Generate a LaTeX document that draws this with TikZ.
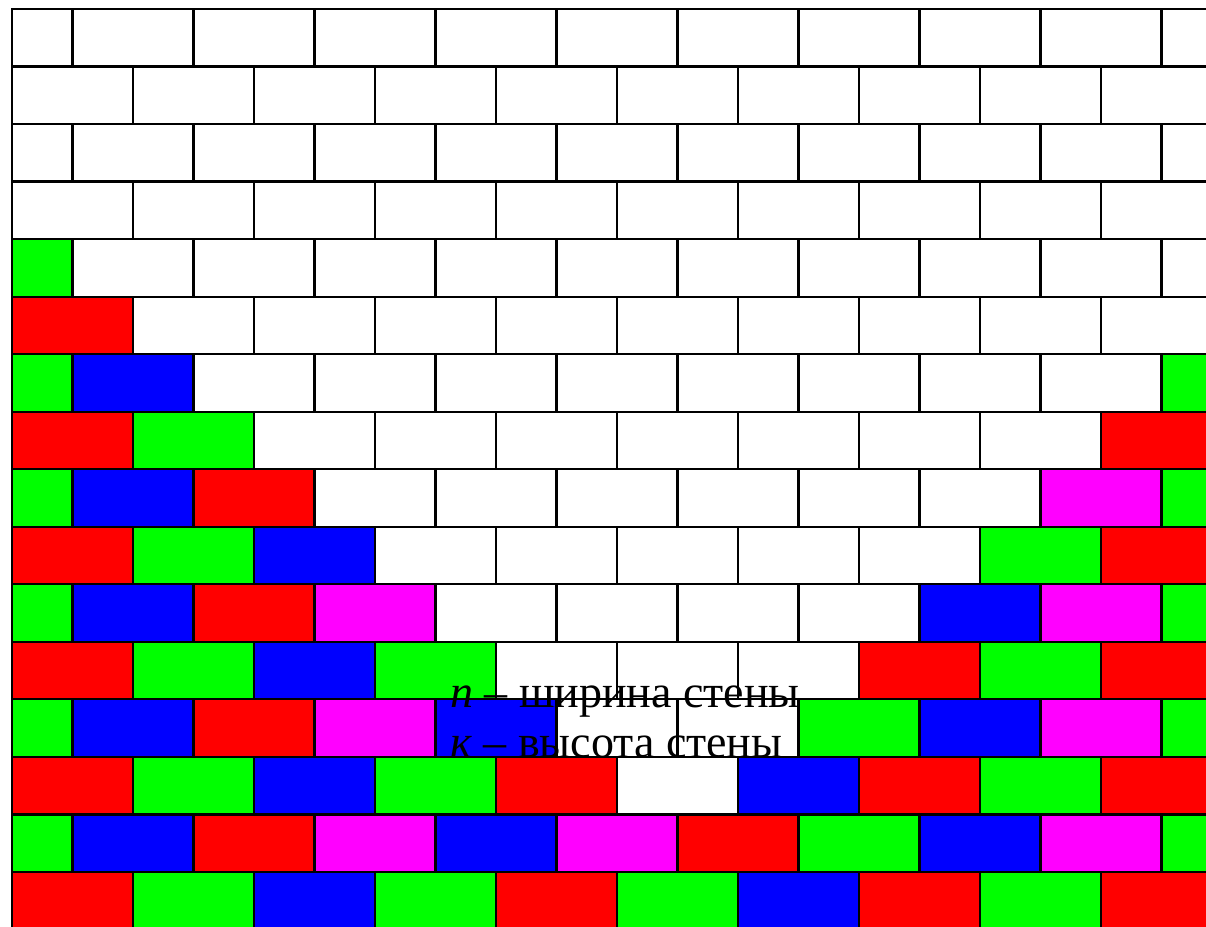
\documentclass[tikz,border=0pt]{standalone}
\usepackage{fontspec}
\setmainfont{Liberation Serif}
\definecolor{W}{RGB}{255,255,255}
\definecolor{G}{RGB}{0,255,0}
\definecolor{R}{RGB}{255,0,0}
\definecolor{B}{RGB}{0,0,255}
\definecolor{M}{RGB}{255,0,255}
\begin{document}
\begin{tikzpicture}[x=1pt,y=-1pt,
  brick/.style={draw=black, line width=2.2pt},
  lbl/.style={anchor=base west, inner sep=0pt, font=\fontsize{46}{50}\selectfont}]
\useasboundingbox (0,0) rectangle (1206,926);
\begin{scope}
\clip (0,0) rectangle (1206,926);
\foreach \r/\lst in {
 0/{W,W,W,W,W,W,W,W,W,W,W},
 1/{W,W,W,W,W,W,W,W,W,W},
 2/{W,W,W,W,W,W,W,W,W,W,W},
 3/{W,W,W,W,W,W,W,W,W,W},
 4/{G,W,W,W,W,W,W,W,W,W,W},
 5/{R,W,W,W,W,W,W,W,W,W},
 6/{G,B,W,W,W,W,W,W,W,W,G},
 7/{R,G,W,W,W,W,W,W,W,R},
 8/{G,B,R,W,W,W,W,W,W,M,G},
 9/{R,G,B,W,W,W,W,W,G,R},
 10/{G,B,R,M,W,W,W,W,B,M,G},
 11/{R,G,B,G,W,W,W,R,G,R},
 12/{G,B,R,M,B,W,W,G,B,M,G},
 13/{R,G,B,G,R,W,B,R,G,R},
 14/{G,B,R,M,B,M,R,G,B,M,G},
 15/{R,G,B,G,R,G,B,R,G,R}} {
  \foreach \c [count=\i from 0] in \lst {
    \pgfmathsetmacro{\off}{60.5*(1-mod(\r,2))}
    \pgfmathsetmacro{\xa}{max(12,12+\i*121-\off)}
    \pgfmathsetmacro{\xb}{12+(\i+1)*121-\off}
    \pgfmathsetmacro{\ya}{9+\r*57.53}
    \pgfmathsetmacro{\yb}{\ya+57.53}
    \path[brick, fill=\c] (\xa,\ya) rectangle (\xb,\yb);
  }
}
\end{scope}
\node[lbl] (wn) at (450,707) {\textit{n} – ширина стены};
\node[lbl] (hk) at (450,757) {\textit{к} – высота стены};
\end{tikzpicture}
\end{document}
